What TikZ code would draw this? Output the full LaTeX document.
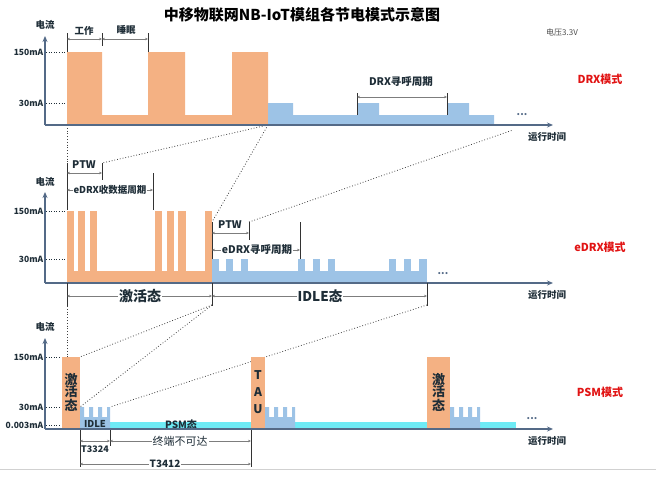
\documentclass[tikz,border=0pt]{standalone}
\usepackage{fontspec}
\setmainfont{Noto Sans CJK SC}
\usetikzlibrary{arrows.meta}
\definecolor{orng}{RGB}{244,177,131}
\definecolor{blu}{RGB}{157,195,230}
\definecolor{cyn}{RGB}{110,235,245}
\definecolor{axc}{RGB}{84,106,135}
\definecolor{txt}{RGB}{30,45,55}
\definecolor{dimc}{RGB}{125,125,125}
\definecolor{redc}{RGB}{225,20,20}
\begin{document}
\begin{tikzpicture}[x=1pt,y=-1pt,
  axisline/.style={draw=axc,line width=1.6pt,-{Stealth[length=6pt,width=5pt]}},
  lvl/.style={dotted,draw=txt,line width=0.6pt},
  lvllab/.style={anchor=east,font=\bfseries\fontsize{8.5}{9}\selectfont,text=txt,inner sep=0.5pt},
  ylab/.style={font=\bfseries\fontsize{9.5}{10}\selectfont,text=txt},
  tlab/.style={font=\bfseries\fontsize{9.5}{10}\selectfont,text=txt},
  modelab/.style={font=\bfseries\fontsize{11}{12}\selectfont,text=redc},
  dimline/.style={draw=dimc,line width=0.6pt,{Stealth[length=3pt,width=2.6pt]}-{Stealth[length=3pt,width=2.6pt]}},
  vbar/.style={draw=black!80,line width=0.9pt},
  guide/.style={draw=black!75,dotted,line width=0.8pt},
  onlab/.style={fill=white,inner sep=1pt,text=txt},
  abovelab/.style={inner sep=1pt,text=txt},
  dots/.style={text=axc,font=\bfseries\fontsize{10}{10}\selectfont}
]
\useasboundingbox (0,0) rectangle (656,477);
% ---------- title ----------
\node[font=\bfseries\fontsize{15}{16}\selectfont,text=black] (title) at (302,15) {中移物联网NB-IoT模组各节电模式示意图};
\node[font=\fontsize{8}{9}\selectfont,text=black!70] (volt) at (562,32) {电压3.3V};
% ---------- guide lines (zoom) ----------
\coordinate (tA) at (67,125);  \coordinate (tB) at (268,125);
\coordinate (mP) at (67,163);  \coordinate (mQ) at (102,163);
\coordinate (mR) at (212,222); \coordinate (mS) at (249,222);
\coordinate (tE) at (513,130);
\draw[guide] (tA) -- (mP);
\draw[guide] (tB) -- (mQ);
\draw[guide] (tB) -- (mR);
\draw[guide] (mS) -- (tE);
\coordinate (mA) at (67,306); \coordinate (mB) at (212,305); \coordinate (mC) at (427,305);
\coordinate (bA) at (67,357); \coordinate (bB) at (80,357); \coordinate (bC) at (80,407); \coordinate (bD) at (110,407);
\draw[guide] (mA) -- (bA);
\draw[guide] (mB) -- (bB);
\draw[guide] (mB) -- (bC);
\draw[guide] (mC) -- (bD);
% ---------- TOP PANEL (DRX) ----------
\fill[orng] (67,124) -- (67,52) -- (102,52) -- (102,115) -- (148,115) -- (148,52) -- (185,52) -- (185,115) -- (232,115) -- (232,52) -- (268,52) -- (268,124) -- cycle;
\fill[blu] (268,124) -- (268,103) -- (293,103) -- (293,115) -- (357,115) -- (357,103) -- (379,103) -- (379,115) -- (447,115) -- (447,103) -- (469,103) -- (469,115) -- (494,115) -- (494,124) -- cycle;
\coordinate (o1) at (45,125);
\draw[axisline] (o1) -- (45,36);
\draw[axisline] (o1) -- (553,125);
\draw[lvl] (46,52) -- (65,52);
\draw[lvl] (46,103) -- (65,103);
\node[lvllab] (t150) at (44,52) {150mA};
\node[lvllab] (t30) at (44,103) {30mA};
\node[ylab] (ty) at (45,25) {电流};
\node[tlab] (tx) at (547,137) {运行时间};
\node[dots] (tdots) at (522,115) {...};
\node[modelab] (tmode) at (600,79) {DRX模式};
% work / sleep
\draw[vbar] (67,33) -- (67,52);
\draw[vbar] (102,33) -- (102,46);
\draw[vbar] (148,33) -- (148,52);
\draw[dimline] (67,39) -- (102,39);
\draw[dimline] (102,39) -- (148,39);
\node[abovelab,font=\bfseries\fontsize{9.5}{10}\selectfont] (work) at (84,31) {工作};
\node[abovelab,font=\bfseries\fontsize{9.5}{10}\selectfont] (sleep) at (126,30) {睡眠};
% DRX paging cycle
\draw[vbar] (357,93) -- (357,115);
\draw[vbar] (447,93) -- (447,115);
\draw[dimline] (357,97) -- (447,97);
\node[abovelab,font=\bfseries\fontsize{10.5}{11}\selectfont] (drxc) at (401,82) {DRX寻呼周期};
% ---------- MIDDLE PANEL (eDRX) ----------
\fill[orng] (67,271) rectangle (212,282);
\foreach \a/\b in {67/74,78/85,90/97,155/162,167/174,178/186,205/212}
  \fill[orng] (\a,211) rectangle (\b,271.5);
\fill[blu] (212,271) rectangle (427,282);
\foreach \a/\b in {212/219,226/233,241/248,298/305,313/320,328/335,389/396,404/411,419/427}
  \fill[blu] (\a,259) rectangle (\b,271.5);
\coordinate (o2) at (45,283);
\draw[axisline] (o2) -- (45,192);
\draw[axisline] (o2) -- (553,283);
\draw[lvl] (46,211) -- (65,211);
\draw[lvl] (46,259) -- (65,259);
\node[lvllab] (m150) at (44,211) {150mA};
\node[lvllab] (m30) at (44,259) {30mA};
\node[ylab] (my) at (45,182) {电流};
\node[tlab] (mx) at (547,295) {运行时间};
\node[dots] (mdots) at (443,274) {...};
\node[modelab] (mmode) at (600,247) {eDRX模式};
% active PTW
\draw[vbar] (67,163) -- (67,210);
\draw[vbar] (102,163) -- (102,180);
\draw[vbar] (153,173) -- (153,210);
\draw[dimline] (67,173) -- (102,173);
\node[abovelab,font=\bfseries\fontsize{10.5}{11}\selectfont] (ptw1) at (84,165) {PTW};
\draw[dimline] (67,190) -- (153,190);
\node[onlab,font=\bfseries\fontsize{9.5}{10}\selectfont] (edc) at (110,190) {eDRX收数据周期};
% idle PTW
\draw[vbar] (212,222) -- (212,259);
\draw[vbar] (249,222) -- (249,240);
\draw[vbar] (300,222) -- (300,259);
\draw[dimline] (212,233) -- (249,233);
\node[abovelab,font=\bfseries\fontsize{10.5}{11}\selectfont] (ptw2) at (230,225) {PTW};
\draw[dimline] (212,250) -- (300,250);
\node[onlab,font=\bfseries\fontsize{10.5}{11}\selectfont] (epc) at (257,250) {eDRX寻呼周期};
% states
\draw[vbar] (67,283) -- (67,306);
\draw[vbar] (212,283) -- (212,306);
\draw[vbar] (427,283) -- (427,306);
\draw[dimline] (67,296) -- (212,296);
\draw[dimline] (212,296) -- (427,296);
\node[onlab,font=\bfseries\fontsize{14}{15}\selectfont] (act) at (140,296) {激活态};
\node[onlab,font=\bfseries\fontsize{13.5}{14}\selectfont] (idle) at (320,296) {IDLE态};
% ---------- BOTTOM PANEL (PSM) ----------
\fill[cyn] (110,422) rectangle (251,428.5);
\fill[cyn] (295,422) rectangle (427,428.5);
\fill[cyn] (480,422) rectangle (516,428.5);
\foreach \s in {80,265,450}
  \fill[blu] (\s,428.5) -- (\s,407) -- ({\s+4},407) -- ({\s+4},417) -- ({\s+9},417) -- ({\s+9},407) -- ({\s+13},407) -- ({\s+13},417) -- ({\s+18},417) -- ({\s+18},407) -- ({\s+22},407) -- ({\s+22},417) -- ({\s+27},417) -- ({\s+27},407) -- ({\s+30},407) -- ({\s+30},428.5) -- cycle;
\fill[orng] (62,357) rectangle (80,428.5);
\fill[orng] (251,357) rectangle (265,428.5);
\fill[orng] (427,357) rectangle (450,428.5);
\node[align=center,font=\bfseries\fontsize{13}{12.5}\selectfont,text=txt,inner sep=0pt] (b1) at (71,392) {激\\活\\态};
\node[align=center,font=\bfseries\fontsize{12}{17}\selectfont,text=txt,inner sep=0pt] (b2) at (258,392) {T\\A\\U};
\node[align=center,font=\bfseries\fontsize{13}{12.5}\selectfont,text=txt,inner sep=0pt] (b3) at (438.5,392) {激\\活\\态};
\node[font=\bfseries\fontsize{9.5}{10}\selectfont,text=txt,inner sep=0pt] (bidle) at (95,424) {IDLE};
\node[font=\bfseries\fontsize{10}{10}\selectfont,text=txt,inner sep=0pt] (bpsm) at (181,425) {PSM态};
\coordinate (o3) at (45,429);
\draw[axisline] (o3) -- (45,338);
\draw[axisline] (o3) -- (553,429);
\draw[lvl] (46,357) -- (60,357);
\draw[lvl] (46,407) -- (60,407);
\draw[lvl] (46,425) -- (60,425);
\node[lvllab] (b150) at (44,357) {150mA};
\node[lvllab] (b30) at (44,407) {30mA};
\node[lvllab] (b003) at (44,425) {0.003mA};
\node[ylab] (by) at (45,327) {电流};
\node[tlab] (bx) at (547,441) {运行时间};
\node[dots] (bdots) at (532,419) {...};
\node[modelab] (bmode) at (600,392) {PSM模式};
% timers
\draw[vbar] (80,430) -- (80,467);
\draw[vbar] (110,430) -- (110,446);
\draw[vbar] (251,430) -- (251,467);
\draw[dimline] (80,441) -- (110,441);
\draw[dimline] (110,441) -- (251,441);
\draw[dimline] (80,464) -- (251,464);
\node[font=\bfseries\fontsize{9}{10}\selectfont,text=txt,inner sep=0.5pt] (t3324) at (95,449.5) {T3324};
\node[onlab,font=\fontsize{11}{12}\selectfont] (unr) at (180,441) {终端不可达};
\node[onlab,font=\bfseries\fontsize{10}{11}\selectfont] (t3412) at (165,464) {T3412};
\draw[black!18,line width=0.6pt] (0,469) -- (656,469);
\end{tikzpicture}
\end{document}
